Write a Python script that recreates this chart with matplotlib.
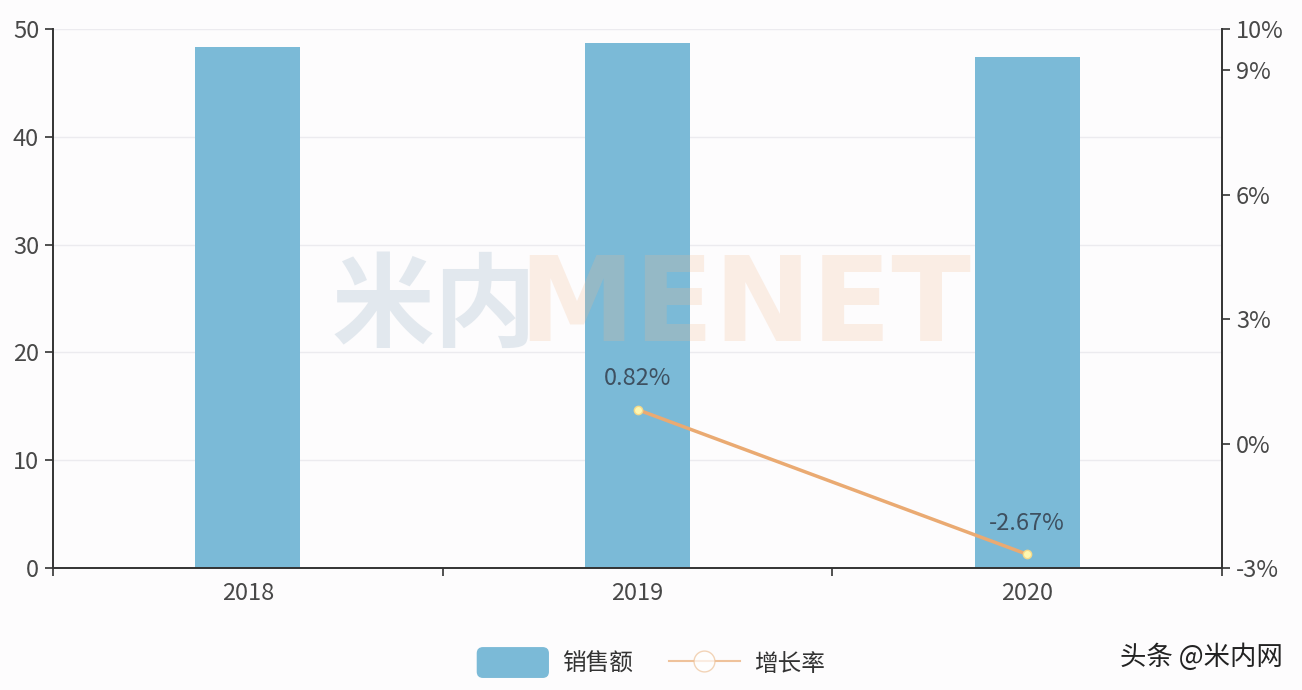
import matplotlib
matplotlib.use("Agg")
import matplotlib.pyplot as plt
from matplotlib.patches import FancyBboxPatch
from matplotlib.lines import Line2D
from matplotlib.legend_handler import HandlerPatch
import matplotlib.patches as mpatches

plt.rcParams['font.family'] = ['Noto Sans CJK SC', 'DejaVu Sans']

years = ['2018', '2019', '2020']
sales = [48.3, 48.7, 47.4]
growth_years = ['2019', '2020']
growth = [0.82, -2.67]
growth_labels = ['0.82%', '-2.67%']
left_ticks = [0, 10, 20, 30, 40, 50]
right_ticks = [-3, 0, 3, 6, 9, 10]

bar_color = '#7bbad7'
line_color = '#eaaa72'
text_color = '#484848'
bg = '#fdfcfd'

fig = plt.figure(figsize=(13.02, 6.90), dpi=100, facecolor=bg)
ax = fig.add_axes([53/1302, 1 - 568/690, (1222-53)/1302, (568-29)/690])
ax.set_facecolor(bg)

x = list(range(len(years)))
ax.bar(x, sales, width=0.27, color=bar_color, zorder=2)
ax.set_xlim(-0.5, len(years) - 0.5)
ax.set_ylim(0, 50)
ax.set_yticks(left_ticks)
ax.set_yticklabels([str(t) for t in left_ticks], fontsize=17, color=text_color)
ax.grid(axis='y', color='#ecebef', linewidth=1, zorder=0)
ax.set_xticks(x)
ax.set_xticklabels(years, fontsize=17, color=text_color)
ax.tick_params(axis='x', length=0, pad=10)
ax.set_xticks([-0.5, 0.5, 1.5, 2.5], minor=True)
ax.tick_params(axis='x', which='minor', length=6, color='#333333', width=1.2)
ax.tick_params(axis='y', length=6, color='#333333', width=1.2, pad=4)
for s in ['top', 'right']:
    ax.spines[s].set_visible(False)
for s in ['left', 'bottom']:
    ax.spines[s].set_color('#333333')
    ax.spines[s].set_linewidth(1.4)

ax2 = ax.twinx()
ax2.set_ylim(-3, 10)
ax2.set_yticks(right_ticks)
ax2.set_yticklabels([f'{t}%' for t in right_ticks], fontsize=17, color=text_color)
ax2.tick_params(axis='y', length=6, color='#333333', width=1.2, pad=4)
for s in ['top', 'left', 'bottom']:
    ax2.spines[s].set_visible(False)
ax2.spines['right'].set_color('#333333')
ax2.spines['right'].set_linewidth(1.4)

# watermark (semi-transparent, over the bars)
ax2.text(0.255, 0.553, '米内', transform=fig.transFigure, fontsize=74, fontweight='bold',
         color='#9fb6c9', alpha=0.28, ha='left', va='center', zorder=1)
ax2.text(0.398, 0.553, 'MENET', transform=fig.transFigure, fontsize=84, fontweight='bold',
         family='DejaVu Sans', color='#f2b98e', alpha=0.22, ha='left', va='center', zorder=1)

gx = [years.index(y) for y in growth_years]
ax2.plot(gx, growth, color=line_color, linewidth=2.5, zorder=3,
         marker='o', markersize=6, markerfacecolor='#fff7b0',
         markeredgecolor='#f4d98a', markeredgewidth=1)
for xi, yi, lab in zip(gx, growth, growth_labels):
    ax2.annotate(lab, (xi, yi), xytext=(0, 14), textcoords='offset points',
                 ha='center', va='bottom', fontsize=17, color='#3e5060', zorder=4)

# legend
handles = [mpatches.FancyBboxPatch((0, 0), 1, 1, boxstyle='round,pad=0,rounding_size=0.15',
                                   color=bar_color),
           Line2D([0], [0], color=line_color, linewidth=1.5, alpha=0.7, marker='o',
                  markersize=15, markerfacecolor='white', markeredgecolor='#eec39a')]
class HandlerRound(HandlerPatch):
    def create_artists(self, legend, orig_handle, xdescent, ydescent, width, height, fontsize, trans):
        p = FancyBboxPatch((-xdescent, -ydescent - 3), width, height + 6,
                           boxstyle='round,pad=0,rounding_size=4', color=bar_color, transform=trans)
        return [p]
leg = fig.legend(handles, ['销售额', '增长率'], loc='center', bbox_to_anchor=(0.5, 0.038),
                 ncol=2, frameon=False, fontsize=17, handlelength=3.0, handleheight=1.0,
                 columnspacing=1.5, handletextpad=0.6,
                 handler_map={mpatches.FancyBboxPatch: HandlerRound()})
for t in leg.get_texts():
    t.set_color('#333333')

fig.text(0.985, 0.047, '头条 @米内网', fontsize=19, color='#222222', ha='right', va='center')

fig.savefig('out.png', dpi=100, facecolor=bg)
